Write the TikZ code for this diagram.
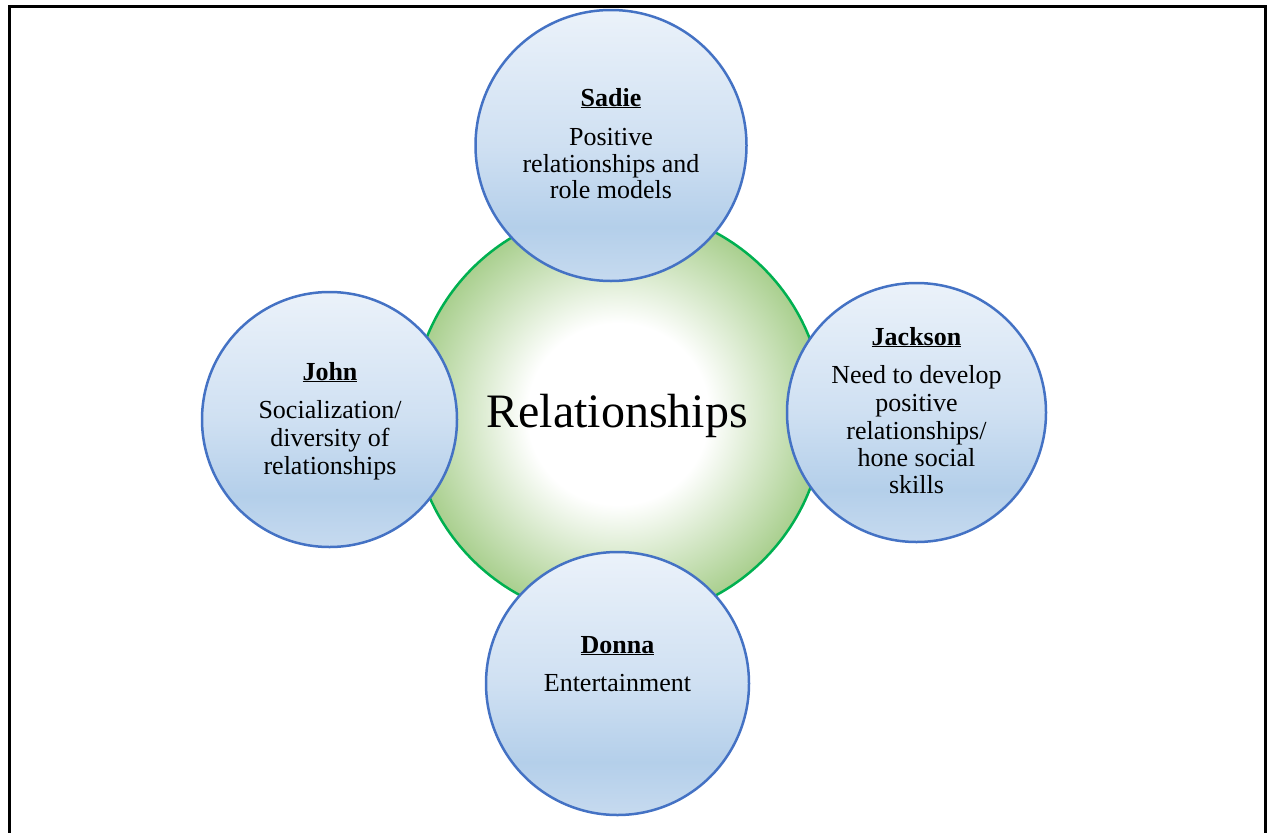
\documentclass[tikz,border=0pt]{standalone}
\usepackage{fontspec}
\setmainfont{Liberation Serif}
\definecolor{bluebd}{HTML}{4472C4}
\definecolor{greenbd}{HTML}{00B050}
\definecolor{bzero}{HTML}{EBF2FA}
\definecolor{bfifty}{HTML}{CFE0F2}
\definecolor{beighty}{HTML}{B4CFEA}
\definecolor{bhundred}{HTML}{C6DAEF}
\definecolor{gedge}{HTML}{A9CF8E}
\pgfdeclareverticalshading{bluesh}{100bp}{color(0bp)=(bhundred); color(25bp)=(bhundred); color(35bp)=(beighty); color(50bp)=(bfifty); color(75bp)=(bzero); color(100bp)=(bzero)}
\pgfdeclareradialshading{greensh}{\pgfpoint{0bp}{0bp}}{color(0bp)=(white); color(11bp)=(white); color(25bp)=(gedge); color(50bp)=(gedge)}
\begin{document}
\begin{tikzpicture}[x=1pt,y=-1pt,
  sat/.style={circle, draw=bluebd, line width=2.5pt, shading=bluesh, inner sep=0pt},
  txt/.style={anchor=base, inner sep=0pt, font=\fontsize{26}{27}\selectfont},
  frameline/.style={line width=3pt, draw=black}]
\useasboundingbox (0,0) rectangle (1267,833);
\clip (0,0) rectangle (1267,833);
\coordinate (fbl) at (9,860);
\coordinate (ftl) at (9,6.8);
\coordinate (ftr) at (1265,6.8);
\coordinate (fbr) at (1265,860);
\draw[frameline] (fbl) -- (ftl) -- (ftr) -- (fbr);

\node[circle, minimum size=412pt, draw=greenbd, line width=2.5pt, shading=greensh, inner sep=0pt] (rel) at (618,414) {};
\node[anchor=base, inner sep=0pt, font=\fontsize{48}{50}\selectfont] (reltext) at (617,427) {Relationships};

\node[sat, minimum size=271pt] (sadie) at (611,145.5) {};
\node[txt] (sadieN) at (611,106) {\underline{\textbf{Sadie}}};
\node[txt] (sadieA) at (611,145) {Positive};
\node[txt] (sadieB) at (611,172) {relationships and};
\node[txt] (sadieC) at (611,198) {role models};

\node[sat, minimum size=255pt] (john) at (329.5,419.5) {};
\node[txt] (johnN) at (330,380) {\underline{\textbf{John}}};
\node[txt] (johnA) at (330,418) {Socialization/};
\node[txt] (johnB) at (330,446) {diversity of};
\node[txt] (johnC) at (330,474) {relationships};

\node[sat, minimum size=259pt] (jackson) at (916.5,412.5) {};
\node[txt] (jacksonN) at (916.5,345) {\underline{\textbf{Jackson}}};
\node[txt] (jacksonA) at (916.5,383) {Need to develop};
\node[txt] (jacksonB) at (916.5,411) {positive};
\node[txt] (jacksonC) at (916.5,439) {relationships/};
\node[txt] (jacksonD) at (916.5,466) {hone social};
\node[txt] (jacksonE) at (916.5,493) {skills};

\node[sat, minimum size=263pt] (donna) at (617.5,683.5) {};
\node[txt] (donnaN) at (617.5,653) {\underline{\textbf{Donna}}};
\node[txt] (donnaA) at (617.5,691) {Entertainment};
\end{tikzpicture}
\end{document}
